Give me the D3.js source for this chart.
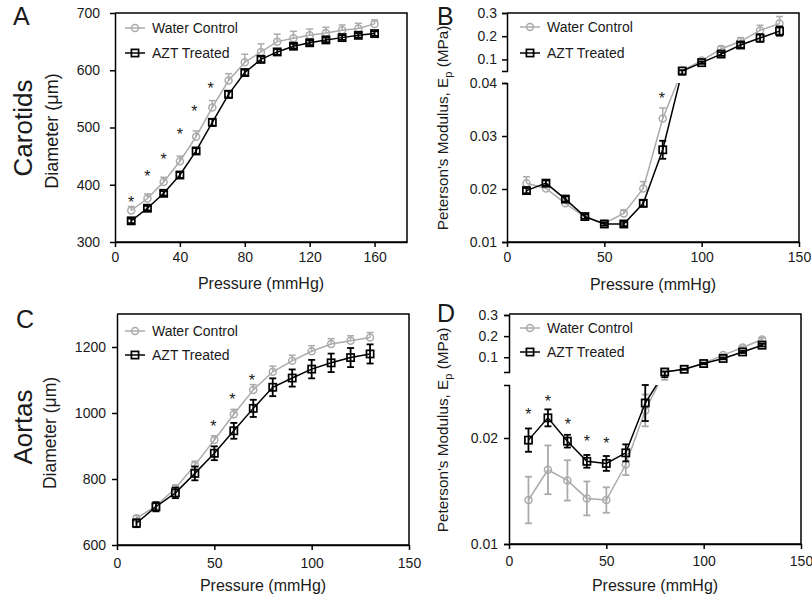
<!DOCTYPE html>
<html>
<head>
<meta charset="utf-8">
<script src="https://cdn.jsdelivr.net/npm/d3@7"></script>
<style>
  body { margin: 0; background: #fff; }
  svg { display: block; font-family: "Liberation Sans", Arial, sans-serif; }
</style>
</head>
<body>
<svg id="chart" width="812" height="601"></svg>
<script>
// ---- data ----
// A: carotid diameter (um)
const carotidPressure = [10, 20, 30, 40, 50, 60, 70, 80, 90, 100, 110, 120, 130, 140, 150, 160];
const carotidDiamWater = [355, 376, 405, 441, 484, 535, 582, 614, 632, 650, 656, 661, 665, 670, 673, 681];
const carotidDiamWaterSem = [7, 8, 8, 9, 10, 12, 12, 14, 14, 13, 12, 11, 10, 9, 9, 7];
const carotidDiamAzt = [337, 359, 385, 417, 459, 509, 558, 596, 619, 632, 642, 648, 653, 657, 661, 664];
const carotidDiamAztSem = [4, 4, 4, 5, 5, 6, 6, 5, 5, 5, 4, 4, 4, 4, 4, 4];
const carotidDiamStars = [[10, 375], [20, 421], [30, 449], [40, 493], [49, 533], [59, 574]];

// B: carotid Peterson's modulus (MPa)
const carotidModPressure = [10, 20, 30, 40, 50, 60, 70, 80, 90, 100, 110, 120, 130, 140];
const carotidModWater = [0.0211, 0.0201, 0.0173, 0.0147, 0.0135, 0.0154, 0.0201, 0.0333, 0.052, 0.095, 0.145, 0.178, 0.225, 0.255];
const carotidModWaterSem = [0.0012, 0.0008, 0.0008, 0.0005, 0.0004, 0.0007, 0.0013, 0.002, 0.004, 0.008, 0.012, 0.016, 0.022, 0.03];
const carotidModAzt = [0.0197, 0.0211, 0.0181, 0.0148, 0.0134, 0.0134, 0.0173, 0.0274, 0.05, 0.086, 0.123, 0.162, 0.192, 0.222];
const carotidModAztSem = [0.0005, 0.0005, 0.0005, 0.0004, 0.0003, 0.0004, 0.0006, 0.0017, 0.003, 0.005, 0.008, 0.012, 0.016, 0.02];
const carotidModStars = [[79.5, 0.0377]];

// C: aorta diameter (um)
const aortaPressure = [10, 20, 30, 40, 50, 60, 70, 80, 90, 100, 110, 120, 130];
const aortaDiamWater = [681, 718, 772, 842, 918, 996, 1070, 1125, 1158, 1187, 1209, 1219, 1229];
const aortaDiamWaterSem = [8, 8, 10, 12, 13, 15, 16, 17, 17, 17, 16, 15, 15];
const aortaDiamAzt = [666, 716, 758, 817, 878, 946, 1014, 1078, 1106, 1133, 1152, 1168, 1179];
const aortaDiamAztSem = [12, 14, 16, 21, 21, 24, 26, 27, 26, 28, 28, 29, 29];
const aortaDiamStars = [[49.5, 970], [59.3, 1051], [69.3, 1109]];

// D: aorta Peterson's modulus (MPa)
const aortaModWater = [0.01415, 0.0170, 0.0160, 0.0143, 0.01415, 0.0175, 0.0226, 0.030, 0.043, 0.072, 0.110, 0.146, 0.184];
const aortaModWaterSem = [0.0022, 0.0023, 0.0019, 0.0016, 0.0012, 0.0010, 0.0015, 0.003, 0.003, 0.004, 0.005, 0.006, 0.008];
const aortaModAzt = [0.0198, 0.0219, 0.0197, 0.0178, 0.0176, 0.0186, 0.0233, 0.030, 0.0429, 0.070, 0.094, 0.125, 0.157];
const aortaModAztSem = [0.0011, 0.0008, 0.0006, 0.0006, 0.0007, 0.0008, 0.0017, 0.002, 0.002, 0.003, 0.004, 0.005, 0.006];
const aortaModStars = [[10, 0.02255], [20, 0.02374], [30.3, 0.02154], [40, 0.01997], [50, 0.01981]];

// axis ticks
const carotidXTicks = [0, 40, 80, 120, 160];
const modXTicks = [0, 50, 100, 150];
const carotidDiamTicks = [300, 400, 500, 600, 700];
const aortaDiamTicks = [600, 800, 1000, 1200];
const carotidModLowTicks = [0.01, 0.02, 0.03, 0.04];
const carotidModHighTicks = [0.1, 0.2, 0.3];
const aortaModLowTicks = [0.01, 0.02];
const aortaModHighTicks = [0.1, 0.2, 0.3];

const seriesNames = ["Water Control", "AZT Treated"];

const GRAY = "#ababab";
const BLACK = "#000";
const TEXT = "#1a1a1a";

const svg = d3.select("#chart");

function drawPanel(p) {
  const g = svg.append("g");
  const x = d3.scaleLinear().domain(p.xDomain).range([p.left, p.right]);
  // piecewise scale so broken axes map continuously through the gap
  const y = d3.scaleLinear().domain(p.yDomain).range(p.yRange);

  // frame: top, right, bottom (left side comes from the axis)
  g.append("path")
    .attr("d", `M${p.left},${p.top}H${p.right}V${p.bottom}H${p.left}`)
    .attr("fill", "none")
    .attr("stroke", BLACK)
    .attr("stroke-width", 1.5);

  // x axis
  g.append("g")
    .attr("transform", `translate(0,${p.bottom})`)
    .call(d3.axisBottom(x).tickValues(p.xTicks).tickSize(5).tickSizeOuter(0).tickPadding(p.xPad));

  // y axis segments
  p.ySegments.forEach((s) => {
    const sy = d3.scaleLinear().domain(s.domain).range(s.range);
    g.append("g")
      .attr("transform", `translate(${p.left},0)`)
      .call(d3.axisLeft(sy).tickValues(s.ticks).tickSize(5)
        .tickSizeOuter(p.ySegments.length > 1 ? 5 : 0)
        .tickPadding(p.yPad).tickFormat((d) => String(d)));
  });

  g.selectAll(".domain").attr("stroke-width", 1.5);
  g.selectAll(".tick line").attr("stroke-width", 1.5);
  g.selectAll(".tick text")
    .attr("font-size", 14)
    .attr("fill", TEXT)
    .attr("font-family", "Liberation Sans, Arial, sans-serif");

  // clip for lines: hides the gap of a broken axis
  const clipId = "clip-" + p.letter;
  const clip = svg.append("clipPath").attr("id", clipId);
  p.clipBands.forEach((b) => {
    clip.append("rect").attr("x", p.left).attr("y", b[0])
      .attr("width", p.right - p.left).attr("height", b[1] - b[0]);
  });

  const line = d3.line().x((d) => x(d[0])).y((d) => y(d[1]));

  p.series.forEach((s) => {
    const pts = d3.zip(p.pressure, s.values, s.sem);
    const color = s.color;

    // error bars
    const eb = g.append("g").attr("stroke", color).attr("stroke-width", s.ebWidth);
    pts.forEach(([px, v, e]) => {
      const cx = x(px);
      const yHi = y(v + e);
      const yLo = s.dir === "both" ? y(v - e) : y(v);
      eb.append("line").attr("x1", cx).attr("x2", cx).attr("y1", yLo).attr("y2", yHi);
      eb.append("line").attr("x1", cx - 3.5).attr("x2", cx + 3.5).attr("y1", yHi).attr("y2", yHi);
      if (s.dir === "both") {
        eb.append("line").attr("x1", cx - 3.5).attr("x2", cx + 3.5).attr("y1", yLo).attr("y2", yLo);
      }
    });

    g.append("path")
      .datum(pts)
      .attr("d", line)
      .attr("fill", "none")
      .attr("stroke", color)
      .attr("stroke-width", 1.5)
      .attr("clip-path", `url(#${clipId})`);

    drawMarkers(g, pts.map((d) => [x(d[0]), y(d[1])]), s.shape, color);
  });

  // significance stars
  g.selectAll(".star")
    .data(p.stars)
    .enter()
    .append("text")
    .attr("x", (d) => x(d[0]))
    .attr("y", (d) => y(d[1]))
    .attr("dy", "0.55em")
    .attr("text-anchor", "middle")
    .attr("font-size", 16)
    .attr("fill", TEXT)
    .text("*");

  // legend
  p.series.forEach((s, i) => {
    const ly = p.legendY[i];
    const lx = p.legendX;
    g.append("line")
      .attr("x1", lx).attr("x2", lx + 20).attr("y1", ly).attr("y2", ly)
      .attr("stroke", s.color).attr("stroke-width", 1.5);
    drawMarkers(g, [[lx + 10, ly]], s.shape, s.color);
    g.append("text")
      .attr("x", lx + 27).attr("y", ly).attr("dy", "0.35em")
      .attr("font-size", 14).attr("fill", TEXT)
      .text(seriesNames[i]);
  });

  // panel letter
  g.append("text")
    .attr("x", p.letterPos[0]).attr("y", p.letterPos[1])
    .attr("font-size", 25).attr("fill", TEXT)
    .text(p.letter);

  // axis titles
  g.append("text")
    .attr("x", (p.left + p.right) / 2).attr("y", p.xTitleY)
    .attr("text-anchor", "middle").attr("font-size", 16).attr("fill", TEXT)
    .text("Pressure (mmHg)");

  const yt = g.append("text")
    .attr("transform", `translate(${p.yTitlePos[0]},${p.yTitlePos[1]}) rotate(-90)`)
    .attr("text-anchor", "middle").attr("font-size", p.yTitleSize).attr("fill", TEXT);
  if (p.modulus) {
    yt.append("tspan").text("Peterson's Modulus, E");
    yt.append("tspan").attr("font-size", 11).attr("dy", 4).text("p");
    yt.append("tspan").attr("dy", -4).text(" (MPa)");
  } else {
    yt.text("Diameter (\u03bcm)");
  }
}

function drawMarkers(g, xy, shape, color) {
  if (shape === "circle") {
    g.selectAll(null).data(xy).enter().append("circle")
      .attr("cx", (d) => d[0]).attr("cy", (d) => d[1]).attr("r", 3.5)
      .attr("fill", "none").attr("stroke", color).attr("stroke-width", 1.5);
  } else {
    g.selectAll(null).data(xy).enter().append("rect")
      .attr("x", (d) => d[0] - 3.6).attr("y", (d) => d[1] - 3.6)
      .attr("width", 7.2).attr("height", 7.2)
      .attr("fill", "none").attr("stroke", color).attr("stroke-width", 1.7);
  }
}

// ---- panels ----
drawPanel({
  letter: "A", left: 115, right: 407, top: 13, bottom: 242,
  xDomain: [0, 180], xTicks: carotidXTicks, xPad: 5, yPad: 10,
  yDomain: [300, 700], yRange: [242, 13],
  ySegments: [{ domain: [300, 700], range: [242, 13], ticks: carotidDiamTicks }],
  clipBands: [[0, 601]],
  pressure: carotidPressure,
  series: [
    { values: carotidDiamWater, sem: carotidDiamWaterSem, color: GRAY, shape: "circle", dir: "up", ebWidth: 1.5 },
    { values: carotidDiamAzt, sem: carotidDiamAztSem, color: BLACK, shape: "square", dir: "both", ebWidth: 1.8 },
  ],
  stars: carotidDiamStars,
  legendX: 125, legendY: [28, 53],
  letterPos: [13, 25], xTitleY: 289, yTitlePos: [58, 131], yTitleSize: 18,
});

drawPanel({
  letter: "B", left: 507, right: 799, top: 13, bottom: 242, modulus: true,
  xDomain: [0, 150], xTicks: modXTicks, xPad: 5, yPad: 5,
  yDomain: [0.01, 0.04, 0.05, 0.3], yRange: [242, 83, 71, 13],
  ySegments: [
    { domain: [0.01, 0.04], range: [242, 83], ticks: carotidModLowTicks },
    { domain: [0.05, 0.3], range: [71, 13], ticks: carotidModHighTicks },
  ],
  clipBands: [[0, 71], [83, 601]],
  pressure: carotidModPressure,
  series: [
    { values: carotidModWater, sem: carotidModWaterSem, color: GRAY, shape: "circle", dir: "up", ebWidth: 1.5 },
    { values: carotidModAzt, sem: carotidModAztSem, color: BLACK, shape: "square", dir: "both", ebWidth: 1.8 },
  ],
  stars: carotidModStars,
  legendX: 520, legendY: [27, 53],
  letterPos: [437, 25], xTitleY: 290, yTitlePos: [448, 128], yTitleSize: 15.3,
});

drawPanel({
  letter: "C", left: 117, right: 409, top: 314, bottom: 545,
  xDomain: [0, 150], xTicks: modXTicks, xPad: 8, yPad: 6,
  yDomain: [600, 1300], yRange: [545, 314],
  ySegments: [{ domain: [600, 1300], range: [545, 314], ticks: aortaDiamTicks }],
  clipBands: [[0, 601]],
  pressure: aortaPressure,
  series: [
    { values: aortaDiamWater, sem: aortaDiamWaterSem, color: GRAY, shape: "circle", dir: "up", ebWidth: 1.5 },
    { values: aortaDiamAzt, sem: aortaDiamAztSem, color: BLACK, shape: "square", dir: "both", ebWidth: 1.8 },
  ],
  stars: aortaDiamStars,
  legendX: 125, legendY: [331, 355],
  letterPos: [16, 328], xTitleY: 591, yTitlePos: [56, 433], yTitleSize: 17.5,
});

drawPanel({
  letter: "D", left: 509, right: 801, top: 314, bottom: 544, modulus: true,
  xDomain: [0, 150], xTicks: modXTicks, xPad: 7, yPad: 6,
  yDomain: [0.01, 0.025, 0.03, 0.3], yRange: [544, 385, 372, 315],
  ySegments: [
    { domain: [0.01, 0.025], range: [544, 385], ticks: aortaModLowTicks },
    { domain: [0.03, 0.3], range: [372, 315], ticks: aortaModHighTicks },
  ],
  clipBands: [[0, 372], [385, 601]],
  pressure: aortaPressure,
  series: [
    { values: aortaModWater, sem: aortaModWaterSem, color: GRAY, shape: "circle", dir: "both", ebWidth: 1.8 },
    { values: aortaModAzt, sem: aortaModAztSem, color: BLACK, shape: "square", dir: "both", ebWidth: 1.8 },
  ],
  stars: aortaModStars,
  legendX: 520, legendY: [328, 352],
  letterPos: [437, 322], xTitleY: 591, yTitlePos: [448, 430], yTitleSize: 15.3,
});

// row labels
svg.append("text")
  .attr("transform", "translate(32,128) rotate(-90)")
  .attr("text-anchor", "middle").attr("font-size", 26).attr("fill", TEXT)
  .text("Carotids");
svg.append("text")
  .attr("transform", "translate(32,427) rotate(-90)")
  .attr("text-anchor", "middle").attr("font-size", 26).attr("fill", TEXT)
  .text("Aortas");
</script>
</body>
</html>
